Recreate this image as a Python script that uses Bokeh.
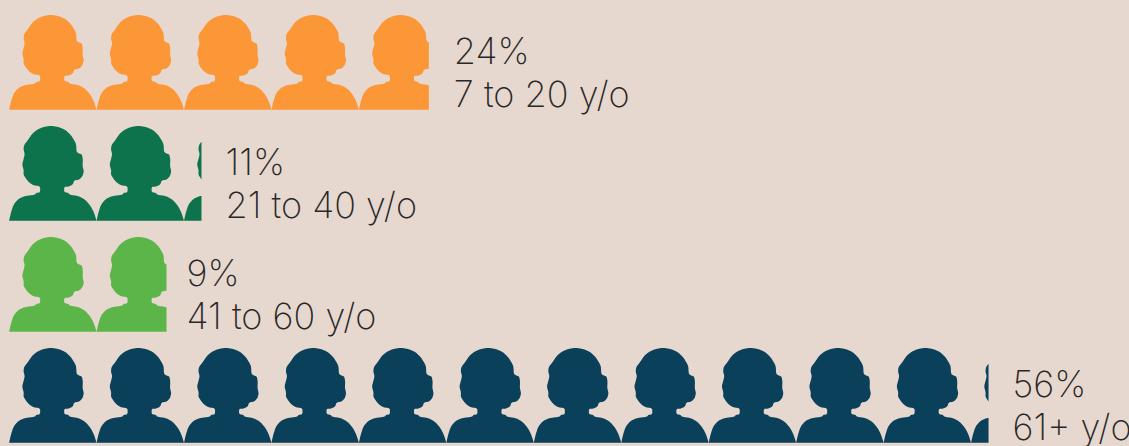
from bokeh.plotting import figure
from bokeh.embed import file_html
from bokeh.resources import INLINE
from bokeh.core.properties import value

shares = [24, 11, 9, 56]
groups = ["7 to 20 y/o", "21 to 40 y/o", "41 to 60 y/o", "61+ y/o"]
share_labels = ["24%", "11%", "9%", "56%"]
colors = ["#FC9738", "#0C734C", "#5BB548", "#0A4059"]
rows = [3, 2, 1, 0]
label_gap_px = [25, 24, 20, 24]

BG = "#E6D8CF"
INK = "#2A2827"
W, H = 1129, 446
PCT_PER_ICON = 5
PX_PER_PCT = 17.49
ROW_PX = 111
LEFT_PX, BASE_PX = 8.6, 443

# Silhouette template: outline of one person, x 0-262 wide, y 0 at the feet, up to 283.
SHAPE_W = 262.0
SHAPE_H = 283.0
_outline = [(27,328),(32,305),(40,280),(55,262),(75,254),(105,250),(108,245),(120,243),(120,225),
            (100,222),(88,215),(78,203),(70,190),(71,178),(66,160),(70,145),(74,130),(70,115),(72,102),
            (85,85),(95,70),(110,57),(130,48),(152,45),(175,48),(195,57),(212,72),(222,88),(228,100),
            (229,122),(235,127),(245,130),(248,145),(247,165),(251,180),(247,195),(238,205),(222,208),(218,220),
            (205,226),(192,227),(192,242),(205,245),(208,250),(235,254),(255,265),(272,285),(282,305),(289,328)]


def soften(path, r=0.2):
    out = [path[0]]
    for a, b in zip(path, path[1:]):
        out.append((a[0] + r * (b[0] - a[0]), a[1] + r * (b[1] - a[1])))
        out.append((b[0] - r * (b[0] - a[0]), b[1] - r * (b[1] - a[1])))
    out.append(path[-1])
    return out


SHAPE = [((x - 27) / SHAPE_W, (330 - y) / SHAPE_H) for x, y in soften(_outline)]
ICON_ROW_H = 95.0 / ROW_PX


def clip_right(poly, limit):
    out = []
    n = len(poly)
    for i in range(n):
        a, b = poly[i], poly[(i + 1) % n]
        a_in, b_in = a[0] <= limit, b[0] <= limit
        if a_in:
            out.append(a)
        if a_in != b_in:
            t = (limit - a[0]) / (b[0] - a[0])
            out.append((limit, a[1] + t * (b[1] - a[1])))
    return out


xs, ys, fills = [], [], []
for share, row, col in zip(shares, rows, colors):
    start = 0
    while start < share:
        poly = [(start + px * PCT_PER_ICON, row + py * ICON_ROW_H) for px, py in SHAPE]
        poly = clip_right(poly, share)
        if poly:
            xs.append([p[0] for p in poly])
            ys.append([p[1] for p in poly])
            fills.append(col)
        start += PCT_PER_ICON

p = figure(width=W, height=H, output_backend="svg", toolbar_location=None,
           x_range=(-LEFT_PX / PX_PER_PCT, (W - LEFT_PX) / PX_PER_PCT),
           y_range=(-(H - BASE_PX) / ROW_PX, BASE_PX / ROW_PX),
           min_border=0, outline_line_color=None,
           background_fill_color=BG, border_fill_color=BG)
p.axis.visible = False
p.grid.visible = False

p.patches(xs, ys, fill_color=fills, line_color=None)

lab_x = [s + g / PX_PER_PCT for s, g in zip(shares, label_gap_px)]
common = dict(text_font=value("Inter ExtraLight"), text_font_size="36px", text_color=INK,
              text_baseline="alphabetic", text_align="left")
p.text(lab_x, rows, text=share_labels, y_offset=-59.5, **common)
p.text(lab_x, rows, text=groups, y_offset=-16.5, **common)

html = file_html(p, INLINE)
html = html.replace("<head>", f"<head><style>html,body{{margin:0;padding:0;background:{BG};overflow:hidden}}</style>", 1)
open("out.html", "w").write(html)
